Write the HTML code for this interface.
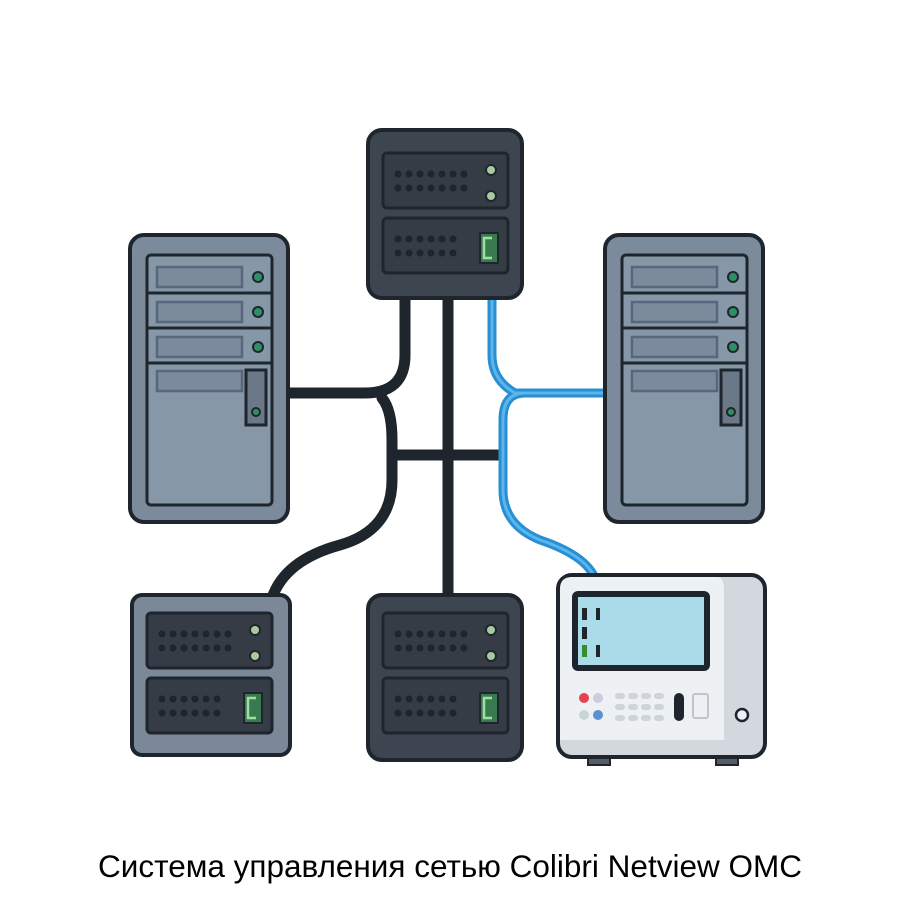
<!DOCTYPE html>
<html><head><meta charset="utf-8"><style>body{margin:0;background:#fff}</style></head><body>
<svg width="900" height="900" viewBox="0 0 900 900" xmlns="http://www.w3.org/2000/svg">
<g fill="none" stroke-linecap="round" stroke-linejoin="round">
<g stroke="#1e252c" stroke-width="11">
<path d="M288 393 H365 Q405 393 405 355 V298"/>
<path d="M382 398 Q392 410 392 440 V480 Q392 530 340 545 Q285 560 272 598"/>
<path d="M448 298 V598"/>
<path d="M392 455 H500"/>
</g>
<g stroke="#2a8fd0" stroke-width="9">
<path d="M492 298 V355 Q492 380 515 393 H605"/>
<path d="M605 393 H525 Q503 393 503 420 V490 Q503 525 540 540 Q585 555 595 578"/>
</g>
<g stroke="#5ab6ee" stroke-width="3">
<path d="M492 298 V355 Q492 380 515 393 H605"/>
<path d="M605 393 H525 Q503 393 503 420 V490 Q503 525 540 540 Q585 555 595 578"/>
</g>
</g>
<g stroke="#1e252c" stroke-width="4">
<rect x="130" y="235" width="158" height="287" rx="14" fill="#7b8b9c"/>
<rect x="147" y="255" width="125" height="250" rx="4" fill="#8697a8" stroke-width="3"/>
<path d="M147 293H272M147 328H272M147 363H272" stroke-width="3"/>
<g fill="#7b8b9c" stroke="#59677a" stroke-width="2.5"><rect x="157" y="267" width="85" height="20"/><rect x="157" y="302" width="85" height="20"/><rect x="157" y="337" width="85" height="20"/><rect x="157" y="371" width="85" height="20"/></g>
<rect x="246" y="370" width="20" height="55" fill="#6b7888" stroke-width="3"/>
<g fill="#2f8f64" stroke-width="2"><circle cx="258" cy="277" r="5"/><circle cx="258" cy="312" r="5"/><circle cx="258" cy="347" r="5"/><circle cx="256" cy="412" r="4"/></g>
</g>
<g stroke="#1e252c" stroke-width="4">
<rect x="605" y="235" width="158" height="287" rx="14" fill="#7b8b9c"/>
<rect x="622" y="255" width="125" height="250" rx="4" fill="#8697a8" stroke-width="3"/>
<path d="M622 293H747M622 328H747M622 363H747" stroke-width="3"/>
<g fill="#7b8b9c" stroke="#59677a" stroke-width="2.5"><rect x="632" y="267" width="85" height="20"/><rect x="632" y="302" width="85" height="20"/><rect x="632" y="337" width="85" height="20"/><rect x="632" y="371" width="85" height="20"/></g>
<rect x="721" y="370" width="20" height="55" fill="#6b7888" stroke-width="3"/>
<g fill="#2f8f64" stroke-width="2"><circle cx="733" cy="277" r="5"/><circle cx="733" cy="312" r="5"/><circle cx="733" cy="347" r="5"/><circle cx="731" cy="412" r="4"/></g>
</g>
<defs>
<g id="dots"><g fill="#1e252c"><circle cx="0" cy="0" r="3"/><circle cx="11" cy="0" r="3"/><circle cx="22" cy="0" r="3"/><circle cx="33" cy="0" r="3"/><circle cx="44" cy="0" r="3"/><circle cx="55" cy="0" r="3"/><circle cx="66" cy="0" r="3"/><circle cx="0" cy="14" r="3"/><circle cx="11" cy="14" r="3"/><circle cx="22" cy="14" r="3"/><circle cx="33" cy="14" r="3"/><circle cx="44" cy="14" r="3"/><circle cx="55" cy="14" r="3"/><circle cx="66" cy="14" r="3"/></g></g>
<g id="dots6"><g fill="#1e252c"><circle cx="0" cy="0" r="3"/><circle cx="11" cy="0" r="3"/><circle cx="22" cy="0" r="3"/><circle cx="33" cy="0" r="3"/><circle cx="44" cy="0" r="3"/><circle cx="55" cy="0" r="3"/><circle cx="0" cy="14" r="3"/><circle cx="11" cy="14" r="3"/><circle cx="22" cy="14" r="3"/><circle cx="33" cy="14" r="3"/><circle cx="44" cy="14" r="3"/><circle cx="55" cy="14" r="3"/></g></g>
<g id="panels" stroke="#1e252c">
<rect x="15" y="23" width="125" height="55" rx="4" fill="#353c46" stroke-width="3"/>
<rect x="15" y="88" width="125" height="55" rx="4" fill="#353c46" stroke-width="3"/>
<use href="#dots" x="30" y="44"/><use href="#dots6" x="30" y="109"/>
<circle cx="123" cy="40" r="5" fill="#a9c9a0" stroke-width="2"/><circle cx="123" cy="66" r="5" fill="#a9c9a0" stroke-width="2"/>
<rect x="112" y="103" width="18" height="30" fill="#3a7a50" stroke-width="2"/>
<path d="M124 108h-8v20h8" stroke="#9ee0a0" stroke-width="2.5" fill="none"/>
</g>
</defs>
<g transform="translate(368,130)"><rect x="0" y="0" width="154" height="168" rx="14" fill="#3d4550" stroke="#1e252c" stroke-width="4"/><use href="#panels"/></g>
<g transform="translate(368,595)"><rect x="0" y="0" width="154" height="165" rx="14" fill="#3d4550" stroke="#1e252c" stroke-width="4"/><use href="#panels" y="-5"/></g>
<g transform="translate(132,595)"><rect x="0" y="0" width="158" height="160" rx="10" fill="#7b8898" stroke="#1e252c" stroke-width="4"/><use href="#panels" y="-5"/></g>
<g stroke="#1e252c">
<rect x="588" y="755" width="22" height="10" fill="#555d68" stroke-width="2"/>
<rect x="716" y="755" width="22" height="10" fill="#555d68" stroke-width="2"/>
<rect x="558" y="575" width="207" height="182" rx="14" fill="#d2d8de" stroke-width="4"/>
<path d="M560 589 Q560 577 572 577 H717 Q724 577 724 590 V740 H560Z" fill="#eef1f4" stroke="none"/>
<rect x="572" y="591" width="138" height="80" rx="6" fill="#1e252c" stroke="none"/>
<rect x="578" y="597" width="126" height="68" fill="#a9dbe8" stroke="none"/>
<g fill="#1e252c" stroke="none"><rect x="582" y="608" width="5" height="12"/><rect x="596" y="608" width="4" height="12"/><rect x="582" y="627" width="5" height="12"/><rect x="596" y="645" width="4" height="12"/></g>
<rect x="582" y="645" width="5" height="12" fill="#3a8a30" stroke="none"/>
<circle cx="584" cy="698" r="5" fill="#e84050" stroke="none"/><circle cx="598" cy="698" r="5" fill="#ccd" stroke="none"/>
<circle cx="584" cy="715" r="5" fill="#c8d8d0" stroke="none"/><circle cx="598" cy="715" r="5" fill="#5a90d0" stroke="none"/>
<g fill="#cfd4da" stroke="none"><rect x="615" y="693" width="10" height="6" rx="3"/><rect x="628" y="693" width="10" height="6" rx="3"/><rect x="641" y="693" width="10" height="6" rx="3"/><rect x="654" y="693" width="10" height="6" rx="3"/><rect x="615" y="704" width="10" height="6" rx="3"/><rect x="628" y="704" width="10" height="6" rx="3"/><rect x="641" y="704" width="10" height="6" rx="3"/><rect x="654" y="704" width="10" height="6" rx="3"/><rect x="615" y="715" width="10" height="6" rx="3"/><rect x="628" y="715" width="10" height="6" rx="3"/><rect x="641" y="715" width="10" height="6" rx="3"/><rect x="654" y="715" width="10" height="6" rx="3"/></g>
<rect x="674" y="693" width="10" height="28" rx="5" fill="#1e252c" stroke="none"/>
<rect x="693" y="694" width="15" height="24" rx="2" fill="#eef1f4" stroke="#bfc5cb" stroke-width="2"/>
<circle cx="742" cy="715" r="6" fill="#eef1f4" stroke-width="2.5"/>
</g>
<text x="450" y="877" text-anchor="middle" font-family="Liberation Sans, sans-serif" font-size="31.5" fill="#000">Система управления сетью Colibri Netview OMC</text>
</svg>
</body></html>
